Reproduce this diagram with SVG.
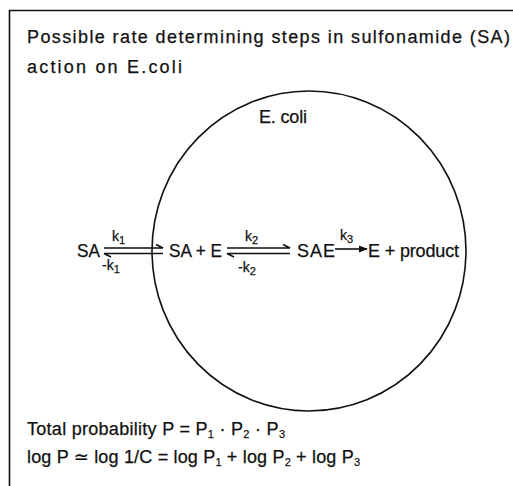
<svg xmlns="http://www.w3.org/2000/svg" width="513" height="486" viewBox="0 0 513 486">
<style>
text{font-family:"Liberation Sans","DejaVu Sans",sans-serif;fill:#111;stroke:#111;stroke-width:0.25}
.t{font-size:18px}
.k{font-size:14px}
.s{font-size:11px}
.ln{stroke:#111;stroke-width:1.6;fill:none}
</style>
<defs>
<marker id="ah" markerWidth="9" markerHeight="8" refX="8" refY="4" orient="auto" markerUnits="userSpaceOnUse">
<path d="M0,0.5 L9,4 L0,7.5 Z" fill="#111"/>
</marker>
</defs>
<rect width="513" height="486" fill="#fff"/>
<g id="frame">
<path class="ln" d="M9.5,486 V10.5 H513" stroke-width="1.8"/>
</g>
<g id="title">
<text class="t" x="27" y="43" textLength="483" lengthAdjust="spacing">Possible rate determining steps in sulfonamide (SA)</text>
<text class="t" x="27" y="73" textLength="155" lengthAdjust="spacing">action on E.coli</text>
</g>
<g id="ecoli">
<ellipse class="ln" cx="309" cy="251" rx="157" ry="160" stroke-width="1.3"/>
<text class="t" x="259" y="123" textLength="48" lengthAdjust="spacing">E. coli</text>
</g>
<g id="sa">
<text class="t" x="77" y="257" textLength="23" lengthAdjust="spacingAndGlyphs">SA</text>
</g>
<g id="sa-e">
<text class="t" x="169" y="257" textLength="53" lengthAdjust="spacingAndGlyphs">SA + E</text>
</g>
<g id="sae">
<text class="t" x="297" y="257" textLength="38" lengthAdjust="spacing">SAE</text>
</g>
<g id="e-product">
<text class="t" x="368" y="257" textLength="91" lengthAdjust="spacing">E + product</text>
</g>
<g id="connectors">
<path class="ln" d="M104,248 H163 L156,244.5"/>
<path class="ln" d="M163,253.5 H104 L111,257"/>
<text class="k" x="112" y="241">k<tspan class="s" dy="3">1</tspan></text>
<text class="k" x="102" y="270">-k<tspan class="s" dy="3">1</tspan></text>
<path class="ln" d="M227,248 H290 L283,244.5"/>
<path class="ln" d="M290,253.5 H227 L234,257"/>
<text class="k" x="245" y="241">k<tspan class="s" dy="3">2</tspan></text>
<text class="k" x="238" y="272">-k<tspan class="s" dy="3">2</tspan></text>
<line class="ln" x1="335" y1="249" x2="367" y2="249" marker-end="url(#ah)"/>
<text class="k" x="340" y="240">k<tspan class="s" dy="3">3</tspan></text>
</g>
<g id="formulas">
<text class="t" x="27" y="435" textLength="258" lengthAdjust="spacing">Total probability  P = P<tspan class="s" dy="3">1</tspan><tspan dy="-3"> · P</tspan><tspan class="s" dy="3">2</tspan><tspan dy="-3"> · P</tspan><tspan class="s" dy="3">3</tspan></text>
<text class="t" x="27" y="463" textLength="333" lengthAdjust="spacing">log P ≃ log 1/C = log P<tspan class="s" dy="3">1</tspan><tspan dy="-3"> + log P</tspan><tspan class="s" dy="3">2</tspan><tspan dy="-3"> + log P</tspan><tspan class="s" dy="3">3</tspan></text>
</g>
</svg>
